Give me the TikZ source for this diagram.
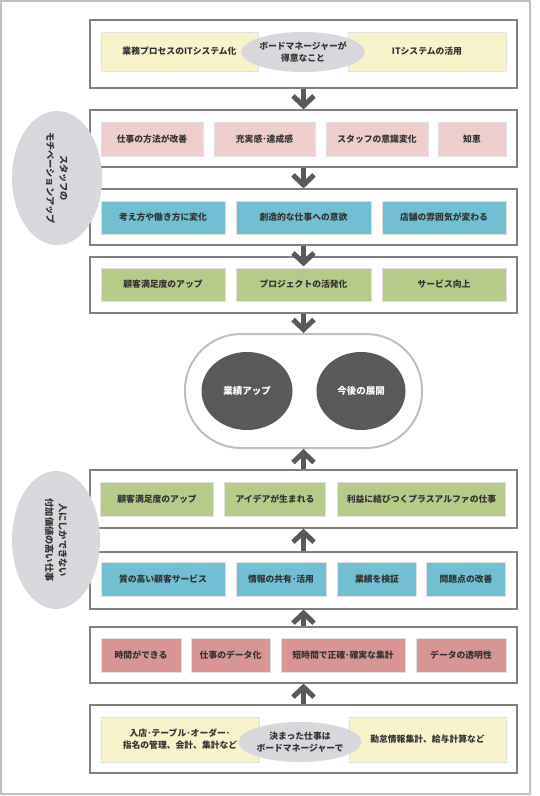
\documentclass[tikz,border=0pt]{standalone}
\usepackage{fontspec}
\setmainfont{Noto Sans CJK JP}
\usetikzlibrary{shapes.geometric}
\usetikzlibrary{arrows.meta}

\definecolor{yelbox}{HTML}{F8F3C8}
\definecolor{pinkbox}{HTML}{F0CDCD}
\definecolor{bluebox}{HTML}{72BFD3}
\definecolor{greenbox}{HTML}{B6CB87}
\definecolor{redbox}{HTML}{D99594}
\definecolor{bubblegray}{HTML}{D8D8DC}
\definecolor{darkgray}{HTML}{595959}
\definecolor{framegray}{HTML}{808080}

\begin{document}
\begin{tikzpicture}[x=1pt,y=-1pt,
      every node/.style={font=\bfseries\fontsize{8.8}{12}\selectfont,text=black!80,inner sep=0pt},
      frame/.style={draw=framegray,line width=1.2pt,fill=white,minimum width=427,minimum height=#1},
      item/.style={draw=black!12,line width=0.8pt,fill=#1,minimum height=34},
      bubble/.style={ellipse,fill=bubblegray,align=center},
      dot/.style={ellipse,fill=darkgray,text=white,minimum height=78},
      flow/.style={draw=darkgray,line width=5pt,-{Straight Barb[length=10pt,width=21pt]}}]
      \useasboundingbox (0,0) rectangle (540,796);
      \fill[white] (0,0) rectangle (540,796);
      \draw[black!25,line width=1.5pt] (1,1) rectangle (530,794);
      % frames
      \node[frame=68] (it) at (303.5,54) {};
      \node[frame=57] (motiv) at (303.5,138.5) {};
      \node[frame=56] (change) at (303.5,217) {};
      \node[frame=56] (result) at (303.5,285) {};
      \node[draw=black!25,line width=2pt,fill=white,rounded corners=56,minimum width=237,minimum height=114] (goal) at (303.5,391) {};
      \node[frame=58] (value) at (303.5,499) {};
      \node[frame=57] (service) at (303.5,580.5) {};
      \node[frame=56] (time) at (303.5,655) {};
      \node[frame=68] (routine) at (303.5,739) {};
      % row 1
      \node[item=yelbox,minimum width=157,minimum height=39] (it1) at (179.5,51.5) {業務プロセスのITシステム化};
      \node[item=yelbox,minimum width=158,minimum height=39] (it2) at (427,51.5) {ITシステムの活用};
      \node[bubble,minimum width=100,minimum height=40] (itb) at (303,52) {ボードマネージャーが\\得意なこと};
      % row 2
      \node[item=pinkbox,minimum width=102] (m1) at (152,139) {仕事の方法が改善};
      \node[item=pinkbox,minimum width=101] (m2) at (264.5,139) {充実感･達成感};
      \node[item=pinkbox,minimum width=102] (m3) at (377,139) {スタッフの意識変化};
      \node[item=pinkbox,minimum width=68] (m4) at (472,139) {知恵};
      % row 3
      \node[item=bluebox,minimum width=124,minimum height=33] (c1) at (163,217.5) {考え方や働き方に変化};
      \node[item=bluebox,minimum width=135,minimum height=33] (c2) at (303.5,217.5) {創造的な仕事への意欲};
      \node[item=bluebox,minimum width=124,minimum height=33] (c3) at (444,217.5) {店舗の雰囲気が変わる};
      % row 4
      \node[item=greenbox,minimum width=124,minimum height=33] (r1) at (163,284.5) {顧客満足度のアップ};
      \node[item=greenbox,minimum width=135,minimum height=33] (r2) at (303.5,284.5) {プロジェクトの活発化};
      \node[item=greenbox,minimum width=124,minimum height=33] (r3) at (444,284.5) {サービス向上};
      % goal
      \node[dot,minimum width=91,font=\bfseries\fontsize{9.5}{12}\selectfont] (g1) at (247,391) {業績アップ};
      \node[dot,minimum width=89,font=\bfseries\fontsize{9.5}{12}\selectfont] (g2) at (361,391) {今後の展開};
      % row 5
      \node[item=greenbox,minimum width=112.5] (v1) at (157,499) {顧客満足度のアップ};
      \node[item=greenbox,minimum width=101.5] (v2) at (275,499) {アイデアが生まれる};
      \node[item=greenbox,minimum width=168] (v3) at (421.5,499) {利益に結びつくプラスアルファの仕事};
      % row 6
      \node[item=bluebox,minimum width=124] (s1) at (163,579.5) {質の高い顧客サービス};
      \node[item=bluebox,minimum width=90] (s2) at (281,579.5) {情報の共有･活用};
      \node[item=bluebox,minimum width=78.5] (s3) at (377,579.5) {業績を検証};
      \node[item=bluebox,minimum width=78.5] (s4) at (466,579.5) {問題点の改善};
      % row 7
      \node[item=redbox,minimum width=80] (t1) at (141,655) {時間ができる};
      \node[item=redbox,minimum width=79] (t2) at (230.5,655) {仕事のデータ化};
      \node[item=redbox,minimum width=124] (t3) at (343,655) {短時間で正確･確実な集計};
      \node[item=redbox,minimum width=90] (t4) at (461,655) {データの透明性};
      % row 8
      \node[item=yelbox,minimum width=158,minimum height=45,align=center] (w1) at (180,739.5) {入店･テーブル･オーダー･\\指名の管理、会計、集計など};
      \node[item=yelbox,minimum width=157,minimum height=45] (w2) at (427.5,739.5) {勤怠情報集計、給与計算など};
      \node[bubble,minimum width=106,minimum height=40] (wb) at (300,742) {決まった仕事は\\ボードマネージャーで};
      % side bubbles
      \node[bubble,rotate=-90,minimum width=134,minimum height=90,font=\bfseries\fontsize{9.2}{13.5}\selectfont] (staff) at (57,178) {スタッフの\\モチベーションアップ};
      \node[bubble,rotate=-90,minimum width=138,minimum height=88,font=\bfseries\fontsize{9.2}{13.5}\selectfont] (human) at (56,540) {人にしかできない\\付加価値の高い仕事};
      % arrows
      \draw[flow] (it.south) -- (motiv.north);
      \draw[flow] (motiv.south) -- (change.north);
      \draw[flow] (change.south) -- ([yshift=-10]result.north);
      \draw[flow] (result.south) -- (goal.north);
      \draw[flow] (value.north) -- (goal.south);
      \draw[flow] (service.north) -- (value.south);
      \draw[flow] (time.north) -- (service.south);
      \draw[flow] (routine.north) -- (time.south);
\end{tikzpicture}
\end{document}
